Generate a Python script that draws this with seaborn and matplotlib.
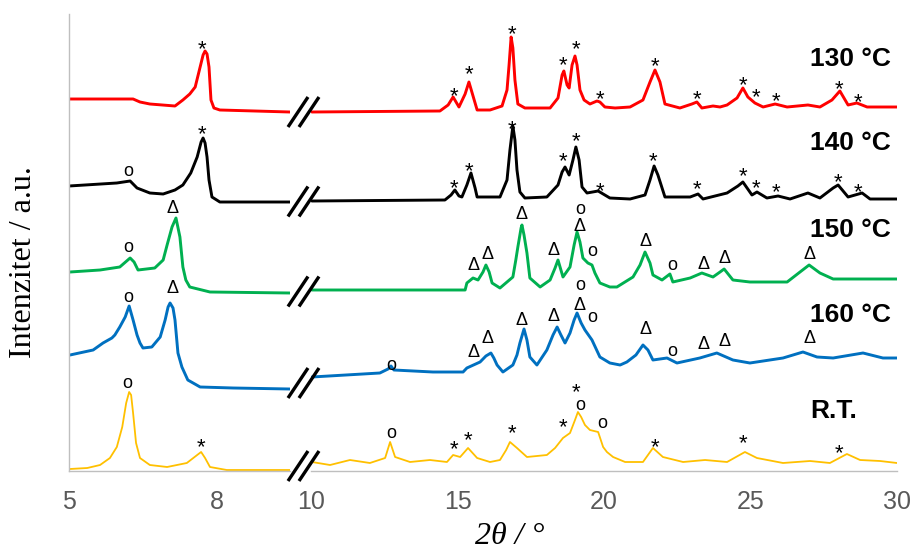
import matplotlib
matplotlib.use("Agg")
import matplotlib.pyplot as plt
import matplotlib.transforms as mtransforms
import seaborn as sns
import pandas as pd

# 2theta (deg) and stacked intensity (a.u.).
# each pattern is split in a 5-9.5 part (l) and a 10-30 part (r)
red_lx = [5.00, 6.30, 6.44, 6.64, 7.15, 7.31, 7.45, 7.56, 7.66, 7.72, 7.76, 7.80, 7.84, 7.88, 7.94, 8.06, 9.48]
red_ly = [372, 372, 369, 367, 365, 371, 377, 384, 404, 416, 420, 417, 404, 371, 363, 361, 359]
red_rx = [10.03, 14.40, 14.68, 14.85, 15.05, 15.26, 15.39, 15.53, 15.67, 16.11, 16.52, 16.69, 16.76, 16.83,
          16.89, 16.96, 17.06, 17.30, 18.16, 18.43, 18.57, 18.63, 18.74, 18.81, 18.91, 19.01, 19.08, 19.18,
          19.32, 19.52, 19.76, 19.86, 20.03, 20.38, 20.89, 21.33, 21.57, 21.74, 21.91, 22.08, 22.59, 23.00,
          23.17, 23.34, 23.72, 23.96, 24.20, 24.54, 24.74, 24.91, 25.15, 25.43, 25.84, 26.25, 26.96, 27.37,
          27.78, 28.05, 28.33, 28.63, 28.98, 30.0]
red_ry = [359, 360, 366, 374, 364, 377, 389, 375, 361, 361, 365, 381, 406, 434,
          423, 391, 367, 363, 363, 373, 396, 400, 386, 383, 406, 415, 406, 381,
          371, 367, 370, 369, 364, 363, 364, 371, 389, 401, 389, 367, 363, 367,
          369, 363, 365, 364, 366, 373, 383, 374, 368, 364, 367, 364, 366, 364,
          371, 380, 366, 368, 364, 364]

black_lx = [5.00, 5.97, 6.24, 6.38, 6.64, 6.91, 7.15, 7.31, 7.47, 7.60, 7.68, 7.72, 7.76, 7.80, 7.84, 7.90, 8.06, 9.48]
black_ly = [285, 288, 290, 283, 278, 277, 281, 286, 298, 314, 329, 333, 328, 314, 291, 274, 269, 269]
black_rx = [10.03, 14.57, 14.78, 14.91, 15.05, 15.15, 15.32, 15.46, 15.60, 15.67, 16.45, 16.69, 16.79, 16.89,
            16.96, 17.03, 17.13, 17.30, 18.05, 18.43, 18.57, 18.67, 18.81, 18.94, 19.04, 19.15, 19.25, 19.42,
            19.80, 20.20, 20.89, 21.40, 21.57, 21.71, 21.84, 22.08, 22.94, 23.21, 23.38, 24.20, 24.57, 24.74,
            25.05, 25.22, 25.56, 25.94, 26.35, 26.96, 27.37, 27.82, 27.99, 28.33, 28.81, 29.08, 30.0]
black_ry = [270, 271, 276, 281, 275, 274, 286, 298, 283, 274, 274, 291, 321, 345,
            331, 301, 279, 273, 274, 286, 299, 304, 296, 311, 324, 311, 284, 278,
            280, 273, 272, 276, 291, 305, 296, 274, 274, 277, 272, 278, 285, 289,
            276, 279, 273, 275, 272, 278, 273, 283, 286, 274, 278, 272, 272]

green_lx = [5.02, 5.63, 6.03, 6.24, 6.32, 6.40, 6.74, 6.91, 6.99, 7.09, 7.17, 7.25, 7.31, 7.37, 7.45, 7.86, 9.48]
green_ly = [199, 201, 204, 213, 209, 201, 203, 211, 226, 244, 253, 234, 204, 191, 184, 179, 178]
green_rx = [10.03, 15.26, 15.32, 15.53, 15.70, 15.87, 15.97, 16.08, 16.18, 16.45, 16.89, 16.99, 17.06, 17.17,
            17.20, 17.27, 17.37, 17.47, 17.82, 18.16, 18.33, 18.43, 18.60, 18.84, 18.98, 19.08, 19.18, 19.28,
            19.45, 19.59, 19.69, 19.86, 20.20, 20.44, 20.99, 21.23, 21.40, 21.57, 21.67, 21.98, 22.25, 22.35,
            22.94, 23.34, 23.72, 23.96, 24.10, 24.40, 24.98, 26.25, 26.69, 27.00, 27.37, 27.82, 28.74, 30.0]
green_ry = [181, 181, 188, 193, 191, 199, 206, 199, 188, 183, 194, 211, 224, 243,
            246, 236, 218, 193, 184, 191, 203, 211, 194, 204, 226, 239, 229, 213,
            208, 206, 198, 188, 184, 184, 194, 206, 219, 208, 196, 191, 197, 189,
            193, 198, 194, 199, 202, 191, 189, 189, 199, 206, 198, 192, 192, 192]

blue_lx = [5.02, 5.49, 5.69, 5.87, 5.93, 6.03, 6.14, 6.22, 6.30, 6.38, 6.44, 6.50, 6.68, 6.85, 6.95, 7.01,
           7.05, 7.11, 7.15, 7.21, 7.29, 7.41, 7.66, 8.33, 9.48]
blue_ly = [116, 121, 128, 133, 136, 144, 154, 165, 151, 136, 128, 123, 124, 134, 151, 164,
           168, 163, 151, 118, 104, 91, 84, 83, 82]
blue_rx = [10.03, 12.35, 12.63, 12.73, 12.83, 14.16, 15.19, 15.32, 15.77, 15.97, 16.14, 16.24, 16.35, 16.55,
           16.89, 17.03, 17.13, 17.27, 17.37, 17.47, 17.71, 18.05, 18.26, 18.40, 18.53, 18.67, 18.84, 18.98,
           19.08, 19.22, 19.35, 19.59, 19.86, 20.20, 20.55, 20.78, 21.09, 21.33, 21.50, 21.67, 22.15, 22.49,
           23.27, 23.85, 24.40, 24.98, 26.11, 26.79, 27.27, 27.82, 28.84, 29.52, 30.0]
blue_ry = [94, 98, 102, 105, 101, 99, 99, 103, 109, 115, 118, 113, 106, 99,
           106, 116, 128, 142, 131, 114, 106, 121, 136, 144, 136, 128, 138, 151,
           158, 148, 141, 131, 114, 108, 106, 109, 116, 126, 121, 111, 113, 108,
           113, 118, 111, 108, 113, 119, 114, 113, 118, 113, 113]

yellow_lx = [5.02, 5.37, 5.63, 5.83, 5.97, 6.08, 6.16, 6.22, 6.26, 6.30, 6.36, 6.44, 6.64, 6.99, 7.39,
             7.60, 7.68, 7.76, 7.86, 8.20, 9.48]
yellow_ly = [2, 3, 6, 13, 24, 44, 68, 79, 76, 58, 28, 13, 6, 4, 8, 16, 19, 13, 4, 1, 1]
yellow_rx = [10.03, 10.65, 11.33, 12.01, 12.53, 12.70, 12.87, 13.38, 14.06, 14.64, 14.85, 15.09, 15.36, 15.67,
             16.11, 16.45, 16.66, 16.79, 17.03, 17.37, 18.05, 18.33, 18.60, 18.84, 19.01, 19.11, 19.22, 19.35,
             19.52, 19.80, 19.97, 20.10, 20.31, 20.72, 21.33, 21.67, 22.01, 22.70, 23.45, 24.20, 24.81, 25.22,
             26.11, 27.03, 27.71, 28.29, 28.74, 29.42, 30.0]
yellow_ry = [9, 6, 11, 8, 13, 29, 14, 9, 11, 9, 16, 14, 23, 13,
             9, 11, 21, 29, 23, 14, 16, 23, 33, 38, 51, 59, 54, 46,
             41, 39, 24, 19, 14, 9, 9, 23, 14, 9, 11, 9, 19, 13,
             8, 10, 8, 17, 11, 10, 8]

# phase markers (symbol, 2theta, height)
red_marks = [("*", 7.70, 428), ("*", 14.88, 381), ("*", 15.39, 403), ("*", 16.86, 443), ("*", 18.60, 412),
             ("*", 19.04, 428), ("*", 19.86, 378), ("*", 21.74, 411), ("*", 23.17, 378), ("*", 24.74, 392),
             ("*", 25.19, 380), ("*", 25.87, 376), ("*", 28.02, 388), ("*", 28.67, 375)]
black_marks = [("o", 6.20, 299), ("*", 7.70, 343), ("*", 14.88, 289), ("*", 15.39, 306), ("*", 16.86, 348),
               ("*", 18.60, 316), ("*", 19.04, 336), ("*", 19.86, 286), ("*", 21.67, 316), ("*", 23.17, 288),
               ("*", 24.74, 301), ("*", 25.19, 289), ("*", 25.87, 285), ("*", 27.99, 295), ("*", 28.67, 285)]
green_marks = [("o", 6.20, 223), ("Δ", 7.09, 264), ("Δ", 15.56, 207), ("Δ", 16.01, 218), ("Δ", 17.20, 258),
               ("Δ", 18.29, 222), ("Δ", 19.15, 246), ("o", 19.18, 262), ("o", 19.59, 219), ("Δ", 21.43, 231),
               ("o", 22.32, 206), ("Δ", 23.41, 208), ("Δ", 24.10, 214), ("Δ", 27.03, 218)]
blue_marks = [("o", 6.20, 174), ("Δ", 7.09, 184), ("o", 12.73, 106), ("Δ", 15.56, 120), ("Δ", 16.01, 134),
              ("Δ", 17.20, 152), ("Δ", 18.29, 156), ("Δ", 19.15, 167), ("o", 19.18, 186), ("o", 19.59, 154),
              ("Δ", 21.43, 143), ("o", 22.32, 119), ("Δ", 23.41, 128), ("Δ", 24.10, 131), ("Δ", 27.03, 134)]
yellow_marks = [("o", 6.18, 88), ("*", 7.68, 30), ("o", 12.73, 37), ("*", 14.88, 28), ("*", 15.36, 37),
                ("*", 16.86, 44), ("*", 18.60, 50), ("*", 19.04, 85), ("o", 19.18, 66), ("o", 19.93, 48),
                ("*", 21.74, 30), ("*", 24.74, 34), ("*", 28.02, 24)]

labels = ["130 °C", "140 °C", "150 °C", "160 °C", "R.T."]
colors = ["#FF0000", "#000000", "#00B050", "#0070C0", "#FFC000"]
label_y = [405, 321, 234, 149, 53]   # baseline of the sample names, in intensity units

samples = [
    (red_lx, red_ly, red_rx, red_ry, red_marks),
    (black_lx, black_ly, black_rx, black_ry, black_marks),
    (green_lx, green_ly, green_rx, green_ry, green_marks),
    (blue_lx, blue_ly, blue_rx, blue_ry, blue_marks),
    (yellow_lx, yellow_ly, yellow_rx, yellow_ry, yellow_marks),
]

sns.set_style("white")
plt.rcParams["font.family"] = ["Liberation Sans", "DejaVu Sans"]
plt.rcParams["text.color"] = "black"

W, H = 910, 550
fig = plt.figure(figsize=(W / 100, H / 100), dpi=100)
y0, y1 = 79 / H, 457 / H
ax_l = fig.add_axes([69 / W, y0, 221 / W, y1])
ax_r = fig.add_axes([311 / W, y0, 586 / W, y1])

# glyph size and vertical nudge (points) so the ink sits on the anchor
mark_style = {"*": (16, -5), "o": (13, 0), "Δ": (13, -1)}

for i, (lx, ly, rx, ry, marks) in enumerate(samples):
    lw = 1.3 if i == 4 else 2.1
    df_l = pd.DataFrame({"x": lx, "y": ly})
    df_r = pd.DataFrame({"x": rx, "y": ry})
    sns.lineplot(data=df_l, x="x", y="y", ax=ax_l, color=colors[i], lw=lw, estimator=None, sort=False)
    sns.lineplot(data=df_r, x="x", y="y", ax=ax_r, color=colors[i], lw=lw, estimator=None, sort=False)
    for sym, mx, my in marks:
        ax = ax_l if mx < 9.5 else ax_r
        fs, dy = mark_style[sym]
        ax.annotate(sym, (mx, my), xytext=(0, dy), textcoords="offset points",
                    ha="center", va="center", fontsize=fs, color="black")
    ax_r.text(27.03, label_y[i], labels[i], fontsize=19, fontweight="bold", ha="left", va="baseline",
              color="black")

    # axis break marks, centred on where the pattern is cut
    cy = (ly[-1] + ry[0]) / 2
    blend = mtransforms.blended_transform_factory(fig.transFigure, ax_r.transData)
    for bx0, bx1 in [(288, 308), (299, 319)]:
        ax_r.plot([bx0 / W, bx1 / W], [cy - 15, cy + 15], transform=blend, color="black",
                  lw=2.4, solid_capstyle="butt", clip_on=False, zorder=5)

ax_l.set_xlim(5, 9.483)
ax_r.set_xlim(10, 30)
for ax in (ax_l, ax_r):
    ax.set_ylim(0, 457)
    ax.set_xlabel("")
    ax.set_ylabel("")
    ax.set_yticks([])
    ax.patch.set_alpha(0)
    ax.tick_params(axis="x", length=0, pad=14, labelsize=18, labelcolor="#595959")
    for s in ("top", "right"):
        ax.spines[s].set_visible(False)
    ax.spines["bottom"].set_color("#BFBFBF")
    ax.spines["bottom"].set_linewidth(1)
ax_l.spines["left"].set_color("#BFBFBF")
ax_l.spines["left"].set_linewidth(1)
ax_r.spines["left"].set_visible(False)
ax_l.set_xticks([5, 8])
ax_r.set_xticks([10, 15, 20, 25, 30])

fig.text(24 / W, 1 - 262 / H, "Intenzitet / a.u.", rotation=90, ha="center", va="center",
         family="Liberation Serif", fontsize=23, color="black")
fig.text(510 / W, 1 - 544 / H, "2θ / °", ha="center", va="baseline",
         family="Liberation Serif", fontstyle="italic", fontsize=23, color="black")

fig.savefig("out.png", dpi=100)
